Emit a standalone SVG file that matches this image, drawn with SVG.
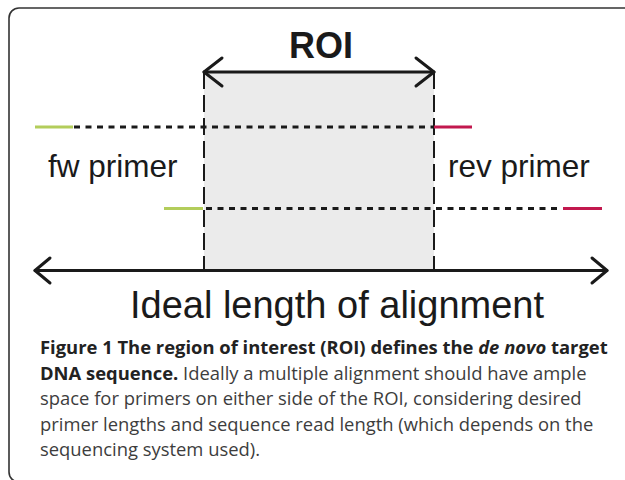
<svg xmlns="http://www.w3.org/2000/svg" width="625" height="480" viewBox="0 0 625 480">
<style>
.lbl{font-family:"Liberation Sans",Arial,sans-serif;fill:#1a1a1a}
.cap{font-family:"Open Sans","Liberation Sans",sans-serif;font-size:18.4px}
.b{font-weight:bold;fill:#222}
.r{fill:#3d3d3d}
.arrow{fill:none;stroke:#1a1a1a;stroke-width:3;stroke-linecap:round;stroke-linejoin:round}
.dash{stroke:#1a1a1a;stroke-width:3;stroke-dasharray:6 5.5}
.vdash{stroke:#1a1a1a;stroke-width:2;stroke-dasharray:17 6}
.green{stroke:#b3cd5b;stroke-width:3}
.red{stroke:#c2184e;stroke-width:3}
</style>
<rect x="9" y="8" width="640" height="474" rx="10" fill="#fff" stroke="#333" stroke-width="1.6"/>
<g id="roi">
<rect x="204" y="72" width="230" height="198" fill="#ebebeb"/>
<line class="vdash" x1="204" y1="72" x2="204" y2="270"/>
<line class="vdash" x1="434" y1="72" x2="434" y2="270"/>
<text class="lbl" x="321" y="58" font-size="36" font-weight="bold" text-anchor="middle">ROI</text>
</g>
<g id="connectors">
<line class="arrow" x1="204" y1="72" x2="434" y2="72"/>
<polyline class="arrow" points="222,58 204,72 222,86"/>
<polyline class="arrow" points="416,58 434,72 416,86"/>
<line class="arrow" x1="35" y1="270.5" x2="607" y2="270.5"/>
<polyline class="arrow" points="50,258 35,270.5 50,283"/>
<polyline class="arrow" points="592,258 607,270.5 592,283"/>
</g>
<g id="primer1">
<line class="green" x1="35" y1="127" x2="73" y2="127"/>
<line class="dash" x1="74" y1="127" x2="434" y2="127"/>
<line class="red" x1="434" y1="127" x2="472" y2="127"/>
</g>
<g id="primer2">
<line class="green" x1="164" y1="208.5" x2="203" y2="208.5"/>
<line class="dash" x1="206" y1="208.5" x2="562" y2="208.5"/>
<line class="red" x1="563" y1="208.5" x2="602" y2="208.5"/>
</g>
<g id="fw">
<text class="lbl" x="48" y="177" font-size="31.5">fw primer</text>
</g>
<g id="rev">
<text class="lbl" x="448" y="177" font-size="31.5">rev primer</text>
</g>
<g id="ideal">
<text class="lbl" x="337" y="318" font-size="38" text-anchor="middle">Ideal length of alignment</text>
</g>
<g id="caption" class="cap">
<text x="40" y="354" class="b">Figure 1 The region of interest (ROI) defines the <tspan font-style="italic">de novo</tspan> target</text>
<text x="40" y="379.5"><tspan class="b">DNA sequence.</tspan> <tspan class="r">Ideally a multiple alignment should have ample</tspan></text>
<text x="40" y="405" class="r">space for primers on either side of the ROI, considering desired</text>
<text x="40" y="430.5" class="r">primer lengths and sequence read length (which depends on the</text>
<text x="40" y="456" class="r">sequencing system used).</text>
</g>
</svg>
